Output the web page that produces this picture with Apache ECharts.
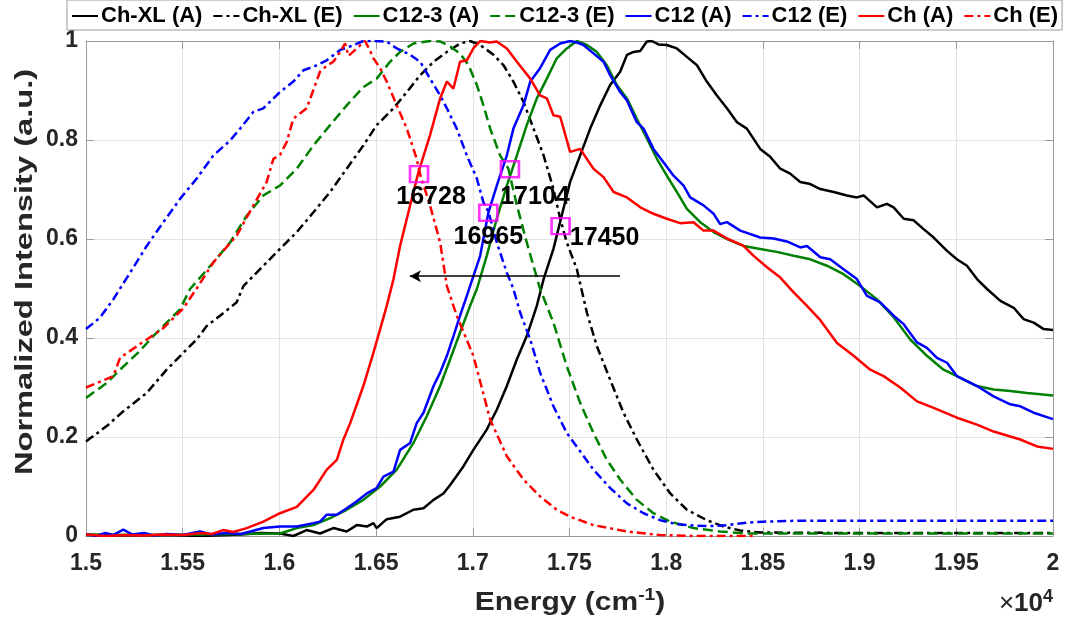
<!DOCTYPE html>
<html><head><meta charset="utf-8">
<script src="https://cdn.jsdelivr.net/npm/echarts@6/dist/echarts.min.js"></script>
<style>html,body{margin:0;padding:0;background:#fff}#c{width:1091px;height:630px}</style>
</head><body><div id="c"></div>
<script>
// ---- tick labels ----
const xTickLabels = ['1.5','1.55','1.6','1.65','1.7','1.75','1.8','1.85','1.9','1.95','2'];
const yTickLabels = ['0','0.2','0.4','0.6','0.8','1'];
const seriesNames = ['Ch-XL (A)','Ch-XL (E)','C12-3 (A)','C12-3 (E)','C12 (A)','C12 (E)','Ch (A)','Ch (E)'];

// ---- series values [energy cm^-1, normalized intensity] ----
const chXL_A = [[15000,0.002],[15200,0.001],[15400,0.002],[15600,0.000],[15800,0.003],[15900,0.006],[16003,0.005],[16072,0.0],[16141,0.012],[16210,0.005],[16279,0.016],[16348,0.009],[16400,0.022],[16452,0.019],[16486,0.026],[16503,0.016],[16555,0.034],[16624,0.039],[16693,0.053],[16745,0.056],[16797,0.073],[16848,0.086],[16883,0.103],[16952,0.141],[17003,0.174],[17072,0.215],[17124,0.255],[17176,0.303],[17228,0.357],[17279,0.404],[17331,0.465],[17366,0.519],[17417,0.58],[17452,0.635],[17503,0.715],[17555,0.769],[17607,0.823],[17659,0.87],[17710,0.911],[17762,0.938],[17797,0.972],[17831,0.978],[17866,0.98],[17900,0.999],[17926,1.0],[17960,0.993],[18003,0.992],[18055,0.985],[18107,0.968],[18159,0.951],[18210,0.918],[18262,0.89],[18314,0.864],[18366,0.836],[18417,0.823],[18486,0.782],[18538,0.766],[18590,0.742],[18641,0.732],[18693,0.715],[18745,0.711],[18797,0.701],[18866,0.695],[18934,0.688],[18986,0.684],[19021,0.688],[19090,0.664],[19141,0.671],[19176,0.664],[19228,0.641],[19279,0.638],[19331,0.62],[19383,0.603],[19452,0.576],[19503,0.559],[19555,0.546],[19607,0.519],[19659,0.499],[19728,0.475],[19797,0.461],[19848,0.438],[19900,0.431],[19952,0.418],[20000,0.416]];

const chXL_E = [[15000,0.191],[15107,0.222],[15193,0.252],[15314,0.289],[15417,0.336],[15503,0.37],[15572,0.397],[15624,0.424],[15693,0.445],[15779,0.472],[15814,0.505],[15900,0.539],[16003,0.58],[16090,0.614],[16176,0.654],[16262,0.695],[16348,0.742],[16434,0.789],[16503,0.83],[16590,0.864],[16659,0.897],[16728,0.931],[16797,0.958],[16866,0.978],[16934,0.995],[16986,1.0],[17038,0.992],[17107,0.972],[17159,0.951],[17210,0.918],[17262,0.877],[17314,0.823],[17366,0.769],[17417,0.701],[17452,0.641],[17486,0.593],[17538,0.539],[17590,0.451],[17641,0.384],[17710,0.316],[17779,0.249],[17848,0.195],[17934,0.134],[18021,0.086],[18107,0.053],[18210,0.032],[18297,0.019],[18383,0.011],[18486,0.007],[19000,0.006],[19500,0.006],[20000,0.006]];

const c123_A = [[15000,0.003],[15300,0.002],[15600,0.003],[15800,0.004],[16003,0.005],[16090,0.016],[16176,0.022],[16262,0.036],[16348,0.053],[16434,0.073],[16521,0.1],[16607,0.134],[16693,0.188],[16762,0.242],[16831,0.303],[16883,0.357],[16934,0.411],[16986,0.465],[17021,0.499],[17072,0.566],[17124,0.641],[17176,0.708],[17228,0.769],[17279,0.83],[17331,0.884],[17383,0.924],[17434,0.965],[17486,0.985],[17538,1.0],[17590,0.992],[17641,0.978],[17693,0.951],[17745,0.911],[17797,0.884],[17848,0.843],[17900,0.803],[17952,0.762],[18003,0.728],[18055,0.695],[18107,0.661],[18176,0.634],[18245,0.614],[18314,0.6],[18400,0.586],[18486,0.58],[18572,0.574],[18659,0.566],[18745,0.559],[18831,0.546],[18917,0.529],[19003,0.505],[19090,0.478],[19176,0.442],[19262,0.397],[19348,0.364],[19434,0.336],[19503,0.323],[19607,0.303],[19693,0.296],[19779,0.293],[19866,0.289],[20000,0.284]];

const c123_E = [[15000,0.279],[15107,0.309],[15176,0.336],[15279,0.374],[15348,0.404],[15417,0.431],[15486,0.458],[15538,0.499],[15659,0.553],[15745,0.593],[15831,0.647],[15917,0.688],[16003,0.708],[16090,0.742],[16176,0.789],[16262,0.83],[16348,0.87],[16434,0.907],[16503,0.924],[16572,0.958],[16624,0.978],[16693,0.995],[16779,1.0],[16831,0.999],[16883,0.989],[16934,0.975],[16978,0.951],[17021,0.911],[17055,0.87],[17090,0.823],[17141,0.769],[17184,0.742],[17228,0.668],[17279,0.593],[17348,0.499],[17417,0.431],[17486,0.343],[17555,0.269],[17624,0.208],[17693,0.154],[17762,0.114],[17848,0.073],[17934,0.046],[18021,0.029],[18141,0.016],[18279,0.009],[18417,0.005],[19000,0.005],[19500,0.005],[20000,0.005]];

const c12_A = [[15000,0.004],[15050,0.0],[15100,0.006],[15140,0.002],[15193,0.013],[15240,0.003],[15300,0.006],[15350,0.001],[15420,0.004],[15500,0.002],[15590,0.009],[15650,0.003],[15720,0.006],[15800,0.004],[15860,0.01],[15917,0.016],[16003,0.019],[16090,0.019],[16176,0.026],[16210,0.029],[16245,0.043],[16297,0.043],[16348,0.056],[16400,0.07],[16452,0.086],[16503,0.097],[16538,0.12],[16590,0.13],[16624,0.174],[16676,0.188],[16710,0.228],[16745,0.249],[16797,0.303],[16831,0.33],[16866,0.364],[16900,0.404],[16934,0.445],[16969,0.485],[17038,0.566],[17081,0.654],[17124,0.708],[17176,0.769],[17210,0.823],[17262,0.87],[17297,0.918],[17348,0.945],[17400,0.982],[17452,0.995],[17503,1.0],[17538,0.997],[17572,0.992],[17624,0.975],[17676,0.958],[17710,0.931],[17762,0.897],[17797,0.88],[17848,0.836],[17883,0.823],[17934,0.782],[17986,0.755],[18038,0.728],[18090,0.708],[18124,0.684],[18193,0.668],[18245,0.651],[18279,0.63],[18314,0.634],[18383,0.617],[18486,0.603],[18555,0.601],[18624,0.595],[18693,0.583],[18728,0.586],[18797,0.563],[18848,0.559],[18917,0.539],[18986,0.519],[19038,0.485],[19107,0.472],[19176,0.445],[19228,0.428],[19297,0.391],[19348,0.38],[19400,0.36],[19452,0.35],[19503,0.323],[19607,0.303],[19693,0.282],[19779,0.266],[19831,0.262],[19900,0.249],[20000,0.236]];

const c12_E = [[15000,0.418],[15072,0.441],[15141,0.478],[15228,0.532],[15314,0.586],[15400,0.634],[15486,0.681],[15572,0.722],[15659,0.769],[15745,0.799],[15797,0.823],[15866,0.857],[15917,0.864],[16003,0.897],[16072,0.918],[16124,0.941],[16176,0.948],[16245,0.961],[16314,0.982],[16366,0.989],[16434,1.0],[16486,1.0],[16555,0.999],[16607,0.985],[16676,0.972],[16728,0.958],[16779,0.924],[16831,0.89],[16866,0.864],[16917,0.823],[16969,0.769],[17021,0.722],[17055,0.674],[17081,0.655],[17124,0.593],[17176,0.532],[17210,0.499],[17245,0.451],[17297,0.397],[17348,0.33],[17417,0.262],[17486,0.208],[17555,0.171],[17624,0.134],[17710,0.097],[17797,0.066],[17883,0.046],[17969,0.032],[18055,0.024],[18141,0.021],[18228,0.02],[18314,0.022],[18417,0.027],[18503,0.029],[18700,0.031],[19000,0.031],[19500,0.031],[20000,0.031]];

const ch_A = [[15000,0.003],[15100,0.0],[15200,0.002],[15300,0.001],[15400,0.003],[15500,0.002],[15600,0.006],[15650,0.004],[15710,0.012],[15760,0.008],[15831,0.016],[15917,0.029],[16003,0.046],[16090,0.059],[16176,0.093],[16245,0.134],[16297,0.154],[16331,0.195],[16366,0.228],[16434,0.303],[16486,0.37],[16521,0.418],[16555,0.465],[16590,0.519],[16624,0.586],[16676,0.668],[16719,0.735],[16779,0.81],[16831,0.884],[16866,0.918],[16900,0.904],[16934,0.958],[16969,0.961],[17003,0.985],[17038,1.0],[17090,0.997],[17124,0.999],[17176,0.985],[17228,0.958],[17297,0.924],[17348,0.89],[17383,0.884],[17417,0.85],[17452,0.847],[17503,0.776],[17555,0.782],[17624,0.742],[17676,0.725],[17728,0.695],[17797,0.684],[17866,0.664],[17934,0.651],[18003,0.641],[18072,0.632],[18141,0.634],[18193,0.617],[18245,0.617],[18314,0.601],[18400,0.586],[18452,0.566],[18521,0.543],[18590,0.522],[18659,0.492],[18728,0.465],[18797,0.436],[18883,0.39],[18969,0.364],[19055,0.336],[19124,0.323],[19210,0.3],[19297,0.272],[19383,0.259],[19503,0.239],[19607,0.225],[19693,0.211],[19779,0.201],[19831,0.195],[19917,0.181],[20000,0.176]];

const ch_E = [[15000,0.30],[15141,0.323],[15176,0.36],[15314,0.397],[15400,0.42],[15503,0.46],[15572,0.50],[15659,0.553],[15779,0.607],[15866,0.668],[15934,0.715],[15969,0.762],[16003,0.77],[16038,0.796],[16072,0.843],[16141,0.864],[16210,0.938],[16245,0.95],[16279,0.958],[16314,0.978],[16340,0.995],[16357,0.97],[16400,0.985],[16443,1.0],[16469,0.98],[16486,0.965],[16521,0.945],[16555,0.918],[16607,0.87],[16659,0.823],[16710,0.762],[16728,0.73],[16779,0.668],[16831,0.593],[16866,0.505],[16917,0.445],[17003,0.364],[17090,0.235],[17176,0.161],[17262,0.114],[17348,0.08],[17434,0.053],[17503,0.039],[17624,0.022],[17797,0.009],[17969,0.002],[18141,0.0],[18452,0.0]];

// ---- annotations: crossing markers and their printed values ----
const crossPoints = [[16722,0.731],[17080,0.653],[17192,0.741],[17454,0.626]];
const crossLabels = ['16728','16965','17104','17450'];
const arrowLine = [[16675,0.525],[17761,0.525]];

// ---- styling ----
const FONT = '"Liberation Sans", Arial, Helvetica, sans-serif';
const TXT = '#262626';
const DASHDOT = [9,4,3,4];
const DASH = [10,5];
const labelOffsets = [[12,23],[0,24],[25,28],[44,12]];

function lineSeries(name, data, color, dash) {
  return {
    name, type: 'line', data, symbol: 'none', showSymbol: false,
    lineStyle: { color, width: 2.5, type: dash || 'solid' },
    itemStyle: { color }, emphasis: { disabled: true }, z: 3
  };
}

const seriesData = [chXL_A, chXL_E, c123_A, c123_E, c12_A, c12_E, ch_A, ch_E];
const colors = ['#000000','#000000','#008000','#008000','#0000ff','#0000ff','#ff0000','#ff0000'];
const dashes = [null, DASHDOT, null, DASH, null, DASHDOT, null, DASHDOT];

const series = seriesNames.map((n, i) => lineSeries(n, seriesData[i], colors[i], dashes[i]));

series.push({
  name: 'markers', type: 'scatter', z: 6,
  symbol: 'rect', symbolSize: [18, 16],
  itemStyle: { color: 'rgba(0,0,0,0)', borderColor: '#ff00ff', borderWidth: 2.5 },
  data: crossPoints.map((p, i) => ({ value: p, label: { offset: labelOffsets[i] } })),
  label: {
    show: true, position: 'inside', formatter: p => crossLabels[p.dataIndex],
    fontFamily: FONT, fontWeight: 'bold', fontSize: 25, color: '#000',
    textBorderWidth: 0, textBorderColor: 'transparent', opacity: 1
  },
  emphasis: { disabled: true },
  markLine: {
    silent: true, symbol: ['arrow', 'none'], symbolSize: [9, 11],
    label: { show: false },
    lineStyle: { color: '#000', width: 1.5, type: 'solid' },
    data: [[{ coord: arrowLine[0] }, { coord: arrowLine[1] }]]
  }
});

const axisLineStyle = { color: '#9a9a9a', width: 1 };

const option = {
  animation: false,
  backgroundColor: '#fff',
  grid: { left: 86, right: 38, top: 41, bottom: 94, containLabel: false },
  legend: {
    data: seriesNames, left: 67, top: 0, orient: 'horizontal',
    itemWidth: 26, itemHeight: 14, itemGap: 10,
    padding: [5, 4, 3, 4],
    backgroundColor: '#fff', borderColor: '#9a9a9a', borderWidth: 1,
    itemStyle: { opacity: 0 },
    textStyle: { fontFamily: FONT, fontWeight: 'bold', fontSize: 22, color: '#000', padding: [0, 0, 0, -2] }
  },
  xAxis: [{
    type: 'value', min: 15000, max: 20000, interval: 500,
    axisLine: { show: true, lineStyle: axisLineStyle, onZero: false },
    axisTick: { show: true, inside: true, length: 8, lineStyle: axisLineStyle },
    splitLine: { show: true, lineStyle: { color: '#e3e3e3', width: 1 } },
    axisLabel: {
      margin: 16, fontFamily: FONT, fontWeight: 'bold', fontSize: 23, color: TXT,
      formatter: v => xTickLabels[Math.round((v - 15000) / 500)]
    }
  }, {
    type: 'value', position: 'top', min: 15000, max: 20000, interval: 500,
    axisLine: { show: true, lineStyle: axisLineStyle, onZero: false },
    axisTick: { show: true, inside: true, length: 8, lineStyle: axisLineStyle },
    splitLine: { show: false }, axisLabel: { show: false }
  }],
  yAxis: [{
    type: 'value', min: 0, max: 1, interval: 0.2,
    axisLine: { show: true, lineStyle: axisLineStyle, onZero: false },
    axisTick: { show: true, inside: true, length: 8, lineStyle: axisLineStyle },
    splitLine: { show: true, lineStyle: { color: '#e3e3e3', width: 1 } },
    axisLabel: {
      margin: 8, fontFamily: FONT, fontWeight: 'bold', fontSize: 23, color: TXT,
      formatter: v => yTickLabels[Math.round(v / 0.2)]
    }
  }, {
    type: 'value', position: 'right', min: 0, max: 1, interval: 0.2,
    axisLine: { show: true, lineStyle: axisLineStyle, onZero: false },
    axisTick: { show: true, inside: true, length: 8, lineStyle: axisLineStyle },
    splitLine: { show: false }, axisLabel: { show: false }
  }],
  graphic: [
    {
      type: 'text', x: 25, y: 272, rotation: Math.PI / 2, scaleX: 1.36, z: 10,
      style: { text: 'Normalized Intensity (a.u.)', font: 'bold 24px ' + FONT, fill: TXT, align: 'center', verticalAlign: 'middle' }
    },
    {
      type: 'text', x: 570, y: 603, scaleX: 1.2, z: 10,
      style: {
        text: '{b|Energy (cm}{s|-1}{b|)}', align: 'center', verticalAlign: 'middle', fill: TXT,
        rich: {
          b: { font: 'bold 25px ' + FONT, fill: TXT },
          s: { font: 'bold 16px ' + FONT, fill: TXT, padding: [0, 0, 14, 0] }
        }
      }
    },
    {
      type: 'text', x: 1053, y: 604, z: 10,
      style: {
        text: '{x|×}{b|10}{s|4}', align: 'right', verticalAlign: 'middle', fill: TXT,
        rich: {
          x: { font: '26px ' + FONT, fill: TXT },
          b: { font: 'bold 26px ' + FONT, fill: TXT },
          s: { font: 'bold 18px ' + FONT, fill: TXT, padding: [0, 0, 14, 0] }
        }
      }
    }
  ],
  series
};

const chart = echarts.init(document.getElementById('c'), null, { renderer: 'canvas' });
chart.setOption(option);
</script>
</body></html>
